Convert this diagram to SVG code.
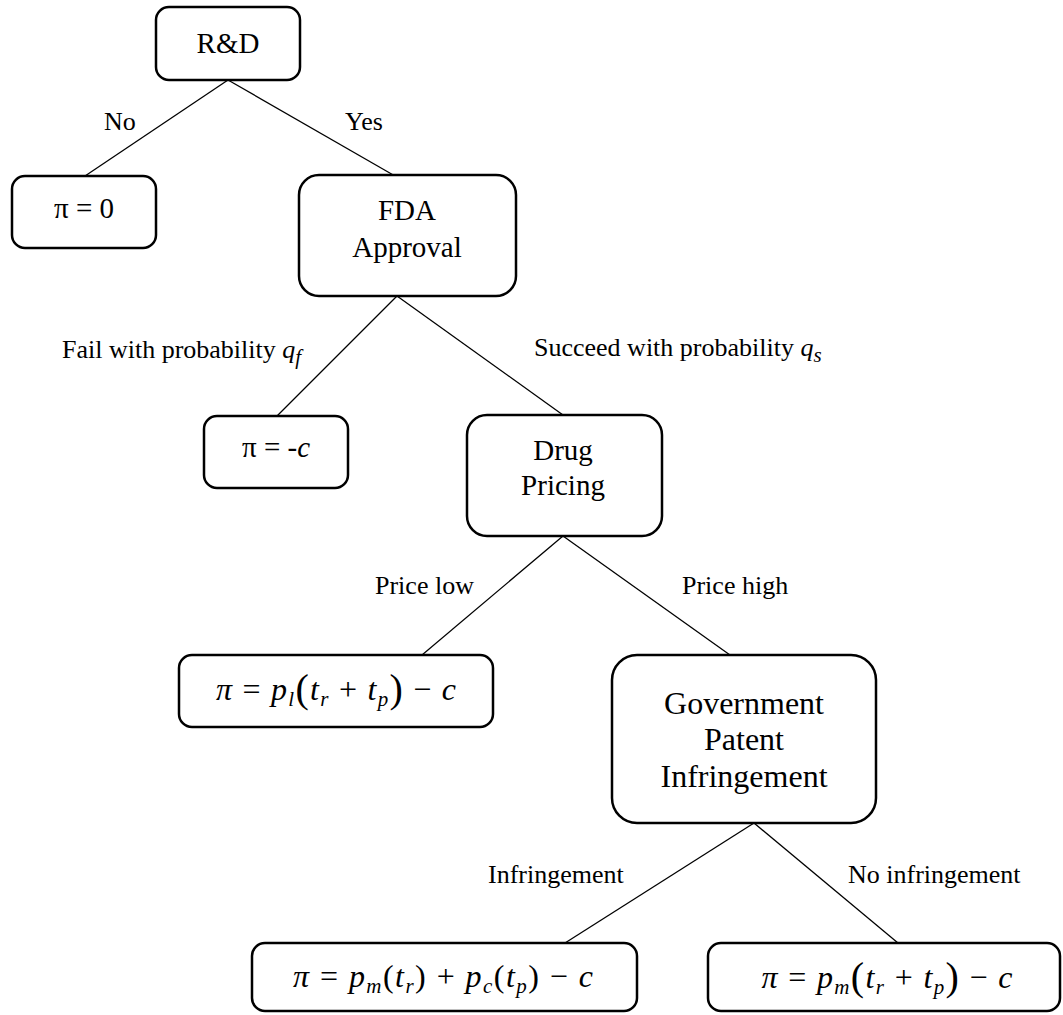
<svg xmlns="http://www.w3.org/2000/svg" width="1063" height="1015" viewBox="0 0 1063 1015">
<style>
.box{fill:#fff;stroke:#000;stroke-width:2.5}
.edge{stroke:#000;stroke-width:1.3;fill:none}
.node{font-family:"Liberation Serif","Times New Roman",serif;font-size:29px;fill:#000;text-anchor:middle}
.lbl{font-family:"Liberation Serif","Times New Roman",serif;font-size:26px;fill:#000}
.math{font-family:"Liberation Serif","Times New Roman",serif;font-size:32px;fill:#000;text-anchor:middle}
.i{font-style:italic}
.sub{font-style:italic;font-size:21px}
.big{font-size:40px}
</style>
<rect width="1063" height="1015" fill="#fff"/>
<g id="connectors">
<line class="edge" x1="228" y1="80" x2="85" y2="176"/>
<line class="edge" x1="228" y1="80" x2="395" y2="176"/>
<line class="edge" x1="397" y1="296" x2="277" y2="416"/>
<line class="edge" x1="397" y1="296" x2="563" y2="415"/>
<line class="edge" x1="563" y1="536" x2="422" y2="655"/>
<line class="edge" x1="563" y1="536" x2="730" y2="655"/>
<line class="edge" x1="754" y1="823" x2="565" y2="943"/>
<line class="edge" x1="754" y1="823" x2="898" y2="943"/>
</g>
<g id="labels">
<text class="lbl" x="104" y="130">No</text>
<text class="lbl" x="345" y="130">Yes</text>
<text class="lbl" x="62" y="358">Fail with probability <tspan class="i">q</tspan><tspan class="sub" dy="6">f</tspan></text>
<text class="lbl" x="534" y="356">Succeed with probability <tspan class="i">q</tspan><tspan class="sub" dy="6">s</tspan></text>
<text class="lbl" x="375" y="594">Price low</text>
<text class="lbl" x="682" y="594">Price high</text>
<text class="lbl" x="488" y="883">Infringement</text>
<text class="lbl" x="848" y="883">No infringement</text>
</g>
<g id="n-rd">
<rect class="box" x="156" y="7" width="144" height="73" rx="13"/>
<text class="node" x="228" y="53">R&amp;D</text>
</g>
<g id="n-zero">
<rect class="box" x="12" y="176" width="144" height="72" rx="13"/>
<text class="node" x="84" y="218">π = 0</text>
</g>
<g id="n-fda">
<rect class="box" x="299" y="175" width="217" height="121" rx="20"/>
<text class="node" x="407" y="220">FDA</text>
<text class="node" x="407" y="257">Approval</text>
</g>
<g id="n-fail">
<rect class="box" x="204" y="416" width="144" height="72" rx="13"/>
<text class="node" x="276" y="457">π = -<tspan class="i">c</tspan></text>
</g>
<g id="n-drug">
<rect class="box" x="467" y="415" width="195" height="121" rx="20"/>
<text class="node" x="563" y="460">Drug</text>
<text class="node" x="563" y="495">Pricing</text>
</g>
<g id="n-low">
<rect class="box" x="179" y="655" width="314" height="72" rx="13"/>
<text class="math" x="336" y="700" textLength="240" lengthAdjust="spacing"><tspan class="i">π</tspan> = <tspan class="i">p</tspan><tspan class="sub" dy="6">l</tspan><tspan class="big" dy="-4">(</tspan><tspan class="i" dy="-2">t</tspan><tspan class="sub" dy="6">r</tspan><tspan dy="-6"> + </tspan><tspan class="i">t</tspan><tspan class="sub" dy="6">p</tspan><tspan class="big" dy="-4">)</tspan><tspan dy="-2"> − </tspan><tspan class="i">c</tspan></text>
</g>
<g id="n-gov">
<rect class="box" x="612" y="655" width="264" height="168" rx="25"/>
<text class="node" x="744" y="714" style="font-size:32px">Government</text>
<text class="node" x="744" y="750" style="font-size:32px">Patent</text>
<text class="node" x="744" y="787" style="font-size:32px">Infringement</text>
</g>
<g id="n-inf">
<rect class="box" x="252" y="943" width="385" height="68" rx="13"/>
<text class="math" x="443" y="987" textLength="300" lengthAdjust="spacing"><tspan class="i">π</tspan> = <tspan class="i">p</tspan><tspan class="sub" dy="6">m</tspan><tspan dy="-6">(</tspan><tspan class="i">t</tspan><tspan class="sub" dy="6">r</tspan><tspan dy="-6">) + </tspan><tspan class="i">p</tspan><tspan class="sub" dy="6">c</tspan><tspan dy="-6">(</tspan><tspan class="i">t</tspan><tspan class="sub" dy="6">p</tspan><tspan dy="-6">) − </tspan><tspan class="i">c</tspan></text>
</g>
<g id="n-noinf">
<rect class="box" x="708" y="943" width="352" height="68" rx="13"/>
<text class="math" x="887" y="988" textLength="251" lengthAdjust="spacing"><tspan class="i">π</tspan> = <tspan class="i">p</tspan><tspan class="sub" dy="6">m</tspan><tspan class="big" dy="-4">(</tspan><tspan class="i" dy="-2">t</tspan><tspan class="sub" dy="6">r</tspan><tspan dy="-6"> + </tspan><tspan class="i">t</tspan><tspan class="sub" dy="6">p</tspan><tspan class="big" dy="-4">)</tspan><tspan dy="-2"> − </tspan><tspan class="i">c</tspan></text>
</g>
</svg>
